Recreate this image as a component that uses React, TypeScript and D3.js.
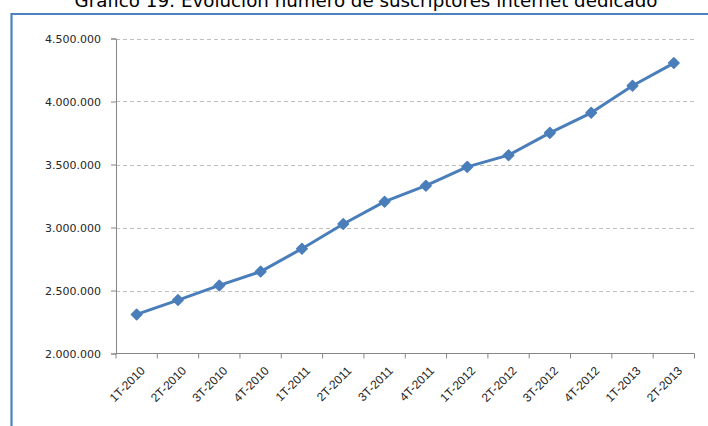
import React, { useRef, useEffect } from "react";
import * as d3 from "d3";

const W = 708;
const H = 426;

const categories = [
  "1T-2010", "2T-2010", "3T-2010", "4T-2010",
  "1T-2011", "2T-2011", "3T-2011", "4T-2011",
  "1T-2012", "2T-2012", "3T-2012", "4T-2012",
  "1T-2013", "2T-2013",
];

const subscribers = [
  2310000, 2424000, 2540000, 2650000,
  2832000, 3028000, 3205000, 3332000,
  3481000, 3574000, 3751000, 3910000,
  4125000, 4305000,
];

const yTicks = [2000000, 2500000, 3000000, 3500000, 4000000, 4500000];

const title = "Gráfico 19: Evolución número de suscriptores internet dedicado";

const fmt = d3
  .formatLocale({ decimal: ",", thousands: ".", grouping: [3], currency: ["", ""] })
  .format(",");

export default function App() {
  const ref = useRef<SVGSVGElement>(null);

  useEffect(() => {
    const svg = d3.select(ref.current);
    svg.selectAll("*").remove();

    const left = 116;
    const right = 694.5;
    const top = 38.5;
    const bottom = 353.5;

    const x = d3.scaleBand().domain(categories).range([left, right]);
    const y = d3.scaleLinear().domain([2000000, 4500000]).range([bottom, top]);

    // title (cut off at top in the original)
    svg
      .append("text")
      .attr("x", 366)
      .attr("y", 7)
      .attr("text-anchor", "middle")
      .attr("font-family", "DejaVu Sans, Verdana, sans-serif")
      .attr("font-size", 17)
      .attr("fill", "#000")
      .attr("textLength", 583)
      .attr("lengthAdjust", "spacingAndGlyphs")
      .text(title);

    // outer frame
    svg
      .append("path")
      .attr("d", `M11.5,${H} L11.5,14 L${W},14`)
      .attr("fill", "none")
      .attr("stroke", "#4F81BD")
      .attr("stroke-width", 2.2);

    // gridlines
    svg
      .append("g")
      .selectAll("line")
      .data(yTicks.slice(1))
      .enter()
      .append("line")
      .attr("x1", left)
      .attr("x2", right)
      .attr("y1", (d) => Math.round(y(d)) + 0.5)
      .attr("y2", (d) => Math.round(y(d)) + 0.5)
      .attr("stroke", "#BFBFBF")
      .attr("stroke-dasharray", "4,3");

    // y axis
    const yAxis = d3
      .axisLeft(y)
      .tickValues(yTicks)
      .tickSize(5)
      .tickPadding(10)
      .tickFormat((d) => fmt(d as number));
    const gy = svg.append("g").attr("transform", `translate(${left},0)`).call(yAxis);
    gy.select(".domain").attr("stroke", "#868686");
    gy.selectAll(".tick line").attr("stroke", "#868686");
    gy.selectAll(".tick text")
      .attr("font-family", "DejaVu Sans, Verdana, sans-serif")
      .attr("font-size", 11)
      .attr("fill", "#262626");

    // x axis
    const gx = svg.append("g").attr("transform", `translate(0,${bottom})`);
    gx.append("line")
      .attr("x1", left)
      .attr("x2", right)
      .attr("stroke", "#868686");
    gx.selectAll(".tk")
      .data(d3.range(categories.length + 1))
      .enter()
      .append("line")
      .attr("x1", (i) => left + i * x.step())
      .attr("x2", (i) => left + i * x.step())
      .attr("y1", 0)
      .attr("y2", 5)
      .attr("stroke", "#868686");
    gx.selectAll(".lbl")
      .data(categories)
      .enter()
      .append("text")
      .attr(
        "transform",
        (d) => `translate(${x(d)! + x.bandwidth() / 2 + 3},${12}) rotate(-45)`
      )
      .attr("text-anchor", "end")
      .attr("dy", "0.71em")
      .attr("font-family", "Liberation Sans, Arial, sans-serif")
      .attr("font-size", 12)
      .attr("fill", "#262626")
      .text((d) => d);

    // line series
    const line = d3
      .line<number>()
      .x((d, i) => x(categories[i])! + x.bandwidth() / 2)
      .y((d) => y(d));

    svg
      .append("path")
      .datum(subscribers)
      .attr("d", line)
      .attr("fill", "none")
      .attr("stroke", "#4A7EBB")
      .attr("stroke-width", 3)
      .attr("stroke-linejoin", "round");

    svg
      .append("g")
      .selectAll("path")
      .data(subscribers)
      .enter()
      .append("path")
      .attr("d", d3.symbol().type(d3.symbolSquare).size(55))
      .attr(
        "transform",
        (d, i) =>
          `translate(${x(categories[i])! + x.bandwidth() / 2},${y(d)}) rotate(45)`
      )
      .attr("fill", "#4A7EBB")
      .attr("stroke", "#4A7EBB")
      .attr("stroke-width", 1.5)
      .attr("stroke-linejoin", "round");
  }, []);

  return (
    <svg
      ref={ref}
      width={W}
      height={H}
      style={{ position: "absolute", left: 0, top: 0, background: "#fff" }}
    />
  );
}
